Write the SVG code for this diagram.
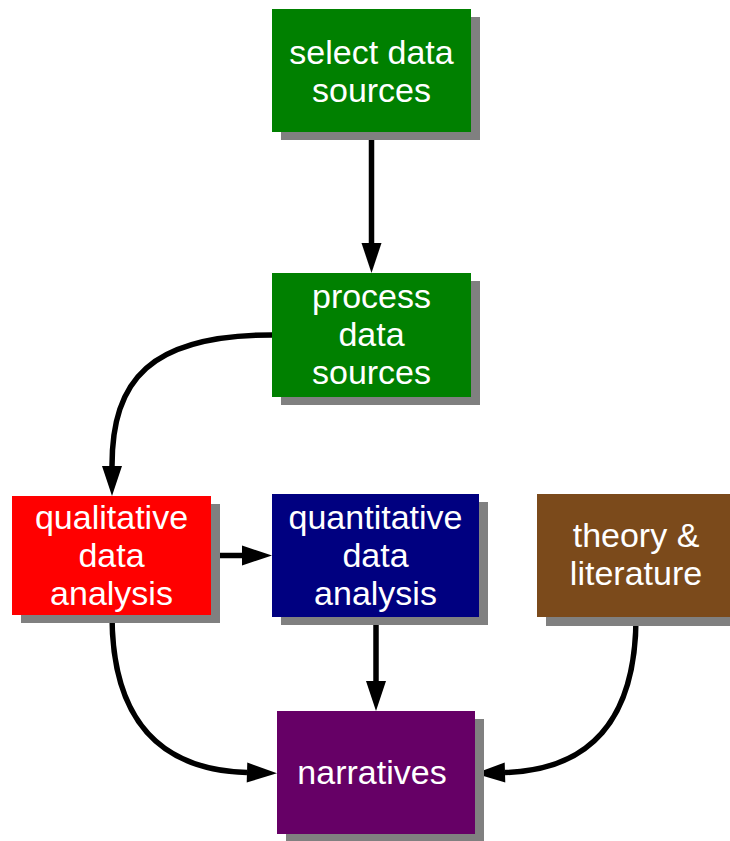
<svg xmlns="http://www.w3.org/2000/svg" width="730" height="841" viewBox="0 0 730 841">
  <style>
    .shadow { fill: #808080; }
    .label { font-family: "Liberation Sans", Arial, sans-serif; font-size: 34px; fill: #ffffff; text-anchor: middle; }
    .edge { fill: none; stroke: #000000; stroke-width: 5.5; marker-end: url(#arrow); }
  </style>
  <defs>
    <marker id="arrow" markerUnits="userSpaceOnUse" markerWidth="30" markerHeight="22" refX="0" refY="11" orient="auto" overflow="visible">
      <path d="M0,1 L30,11 L0,21 Z" fill="#000000"/>
    </marker>
  </defs>
  <rect width="730" height="841" fill="#ffffff"/>

  <!-- connectors -->
  <g id="connectors">
    <path class="edge" d="M371.5,132 L371.5,243"/>
    <path class="edge" d="M272,335 C150,335 112,380 112,466"/>
    <path class="edge" d="M211,555.5 L242,555.5"/>
    <path class="edge" d="M376,617 L376,681"/>
    <path class="edge" d="M112,615 C112,720 160,770 247,772.5"/>
    <path class="edge" d="M636,617 C636,720 590,770 505,772.5"/>
  </g>

  <!-- nodes -->
  <g id="select">
    <rect class="shadow" x="281" y="17" width="199" height="123"/>
    <rect x="272" y="9" width="199" height="123" fill="#008000"/>
    <text class="label" x="371.5" y="63.5">select data</text>
    <text class="label" x="371.5" y="101.5">sources</text>
  </g>

  <g id="process">
    <rect class="shadow" x="281" y="281" width="199" height="124"/>
    <rect x="272" y="273" width="199" height="124" fill="#008000"/>
    <text class="label" x="371.5" y="308">process</text>
    <text class="label" x="371.5" y="346">data</text>
    <text class="label" x="371.5" y="384">sources</text>
  </g>

  <g id="qualitative">
    <rect class="shadow" x="21" y="504" width="199" height="119"/>
    <rect x="12" y="496" width="199" height="119" fill="#ff0000"/>
    <text class="label" x="111.5" y="529">qualitative</text>
    <text class="label" x="111.5" y="567">data</text>
    <text class="label" x="111.5" y="605">analysis</text>
  </g>

  <g id="quantitative">
    <rect class="shadow" x="281" y="502" width="207" height="123"/>
    <rect x="272" y="494" width="207" height="123" fill="#000080"/>
    <text class="label" x="375.5" y="529">quantitative</text>
    <text class="label" x="375.5" y="567">data</text>
    <text class="label" x="375.5" y="605">analysis</text>
  </g>

  <g id="theory">
    <rect class="shadow" x="546" y="502" width="199" height="124"/>
    <rect x="537" y="494" width="199" height="123" fill="#7b4a1b"/>
    <text class="label" x="636" y="547">theory &amp;</text>
    <text class="label" x="636" y="585">literature</text>
  </g>

  <g id="narratives">
    <rect class="shadow" x="286" y="719" width="198" height="123"/>
    <rect x="277" y="711" width="198" height="123" fill="#660066"/>
    <text class="label" x="372" y="784">narratives</text>
  </g>
</svg>
